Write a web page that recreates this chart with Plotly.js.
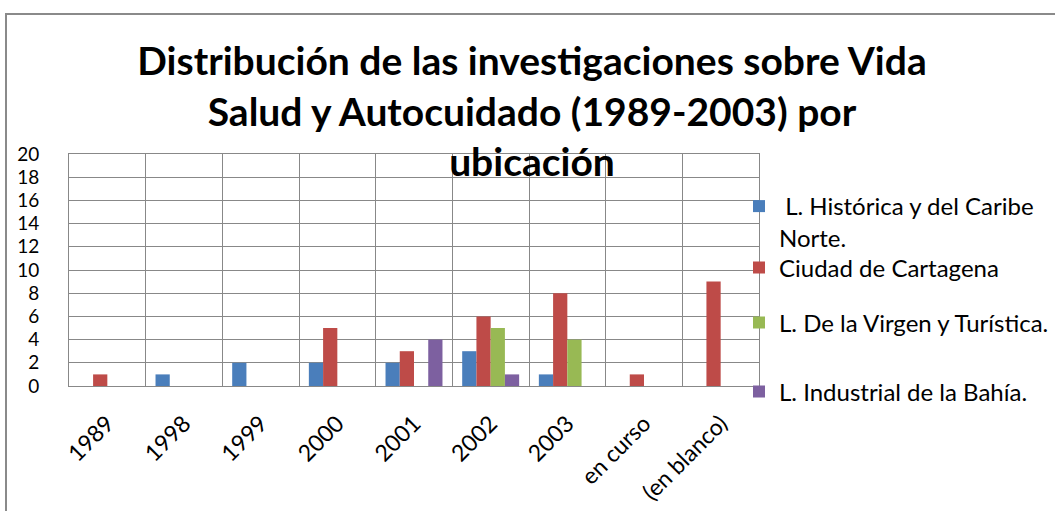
<!DOCTYPE html>
<html>
<head>
<meta charset="utf-8">
<script src="https://cdn.plot.ly/plotly-3.0.1.min.js"></script>
<style>
  html, body { margin: 0; padding: 0; background: #ffffff; }
  #chart { width: 1055px; height: 511px; position: relative; }
  #frame { position: absolute; left: 5px; top: 13px; width: 1200px; height: 700px;
           border-left: 2px solid #8a8a8a; border-top: 2px solid #8a8a8a; pointer-events: none; }
</style>
</head>
<body>
<div id="chart"></div>
<div id="frame"></div>
<script>
const categories = ['1989', '1998', '1999', '2000', '2001', '2002', '2003', 'en curso', '(en blanco)'];
const seriesNames = ['\u00a0L. Histórica y del Caribe<br>Norte.', 'Ciudad de Cartagena', 'L. De la Virgen y Turística.', 'L. Industrial de la Bahía.'];
const historica = [0, 1, 2, 2, 2, 3, 1, 0, 0];
const cartagena = [1, 0, 0, 5, 3, 6, 8, 1, 9];
const virgen = [0, 0, 0, 0, 0, 5, 4, 0, 0];
const industrial = [0, 0, 0, 0, 4, 1, 0, 0, 0];
const yTicks = [0, 2, 4, 6, 8, 10, 12, 14, 16, 18, 20];
const titleText = 'Distribución de las investigaciones sobre Vida<br>Salud y Autocuidado (1989-2003) por<br>ubicación';

const colors = ['#4a7ebb', '#be4b48', '#98b954', '#7d60a0'];
const values = [historica, cartagena, virgen, industrial];
const legendIds = ['legend', 'legend2', 'legend3', 'legend4'];

const W = 1055, H = 511;
const FONT = 'Lato, Liberation Sans, Arial, sans-serif';
const data = values.map((v, i) => ({
  type: 'bar',
  name: seriesNames[i],
  x: categories,
  y: v,
  marker: { color: colors[i], line: { width: 0 } },
  legend: legendIds[i],
  hoverinfo: 'x+y+name'
}));

const legendFont = { family: FONT, size: 24, color: '#000000' };
function mkLegend(cy, valign) {
  return {
    xref: 'container', yref: 'container',
    x: 739 / W, xanchor: 'left',
    y: 1 - cy / H, yanchor: 'middle',
    bgcolor: 'rgba(0,0,0,0)', borderwidth: 0,
    font: legendFont, itemwidth: 30, valign: valign || 'middle',
    itemclick: false, itemdoubleclick: false
  };
}

const layout = {
  width: W, height: H,
  paper_bgcolor: '#ffffff', plot_bgcolor: '#ffffff',
  margin: { l: 69, r: 296, t: 154, b: 125, pad: 0, autoexpand: false },
  title: {
    text: titleText,
    font: { family: FONT, size: 39, color: '#000000', weight: 'bold' },
    xref: 'container', yref: 'container',
    x: 532 / W, xanchor: 'center',
    y: 1 - 75 / H, yanchor: 'top'
  },
  barmode: 'group',
  bargap: 0.257,
  bargroupgap: 0,
  showlegend: true,
  legend: mkLegend(222, 'top'),
  legend2: mkLegend(268),
  legend3: mkLegend(323),
  legend4: mkLegend(392),
  xaxis: {
    type: 'category',
    categoryorder: 'array', categoryarray: categories,
    tickson: 'boundaries',
    showgrid: true, gridcolor: '#888888', gridwidth: 1,
    showline: true, linecolor: '#888888', linewidth: 1, mirror: true,
    ticks: '', tickangle: -45,
    ticklabelstandoff: 14,
    tickfont: { family: FONT, size: 23, color: '#000000' },
    zeroline: false, fixedrange: true, automargin: false
  },
  yaxis: {
    range: [0, 20],
    tickvals: yTicks,
    ticktext: yTicks.map(String),
    showgrid: true, gridcolor: '#888888', gridwidth: 1,
    showline: true, linecolor: '#888888', linewidth: 1, mirror: true,
    ticks: '',
    ticklabelstandoff: 25,
    tickfont: { family: FONT, size: 19, color: '#000000' },
    zeroline: false, fixedrange: true, automargin: false
  }
};

Plotly.newPlot('chart', data, layout, { displayModeBar: false });
</script>
</body>
</html>
